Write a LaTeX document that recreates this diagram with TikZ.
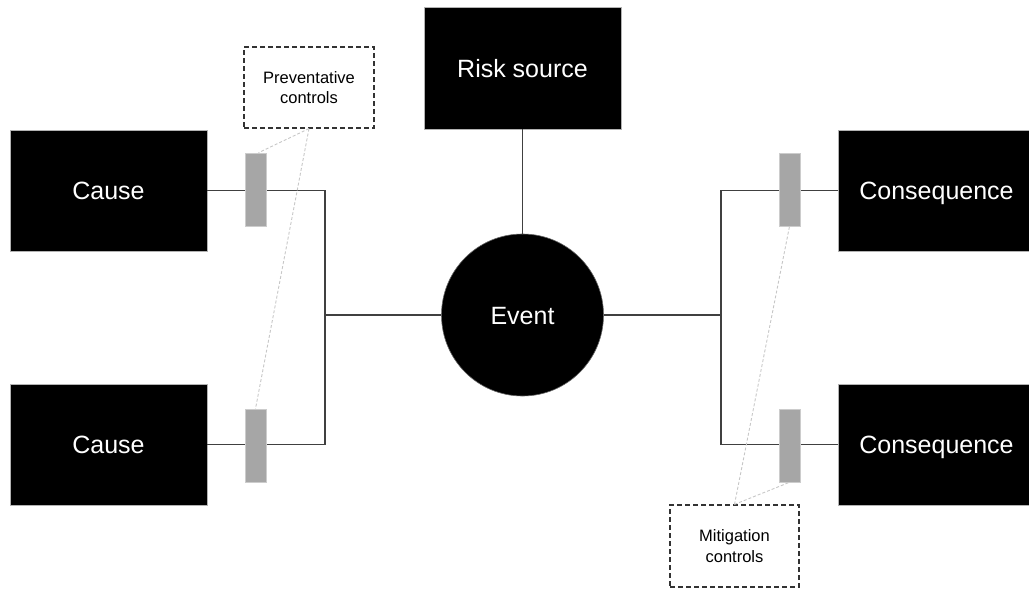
\documentclass[tikz,border=0pt]{standalone}
\usepackage{fontspec}
\setmainfont{Liberation Sans}
\begin{document}
\begin{tikzpicture}[x=1pt,y=-1pt,
  blackbox/.style={rectangle, fill=black, draw=black!30, line width=0.8pt,
    minimum width=197pt, minimum height=121pt, inner sep=0pt,
    text height=18pt, text depth=0pt,
    text=white, font=\fontsize{25}{30}\selectfont},
  eventdisc/.style={circle, fill=black, draw=black!60, line width=0.6pt,
    minimum size=162pt, inner sep=0pt, text height=18pt, text depth=0pt,
    text=white, font=\fontsize{25}{30}\selectfont},
  barrier/.style={rectangle, fill=black!35, draw=black!20, line width=0.6pt,
    minimum width=21pt, minimum height=73pt, inner sep=0pt},
  controlbox/.style={rectangle, draw=black!80, dashed, dash pattern=on 5pt off 3pt,
    line width=1.2pt, minimum width=130pt, minimum height=81pt, inner sep=0pt,
    align=center, font=\fontsize{16.5}{20.5}\selectfont},
  link/.style={draw=black!75, line width=1.1pt},
  pointer/.style={draw=black!22, line width=0.9pt, dash pattern=on 3pt off 2pt}
]
\useasboundingbox (0,0) rectangle (1029,589);
\clip (0,0) rectangle (1029,589);

% main boxes and the central event
\node[blackbox] (cause1) at (108.5,190.5) {Cause};
\node[blackbox] (cause2) at (108.5,444.5) {Cause};
\node[blackbox] (cons1) at (936.5,190.5) {Consequence};
\node[blackbox] (cons2) at (936.5,444.5) {Consequence};
\node[blackbox, minimum height=122pt] (risk) at (522.5,68) {Risk source};
\node[eventdisc] (event) at (522.5,315) {Event};

% junction points of the bow-tie wiring
\coordinate (jlt) at (325,190.5);
\coordinate (jlb) at (325,444.5);
\coordinate (jlm) at (325,315);
\coordinate (jrt) at (721,190.5);
\coordinate (jrb) at (721,444.5);
\coordinate (jrm) at (721,315);

% connectors
\draw[link] (cause1.east) -- (jlt) -- (jlb) -- (cause2.east);
\draw[link] (jlm) -- (event.west);
\draw[link] (cons1.west) -- (jrt) -- (jrb) -- (cons2.west);
\draw[link] (jrm) -- (event.east);
\draw[link] (risk.south) -- (event.north);

% barriers on the threat and consequence lines
\node[barrier] (bar1) at (255.5,189.5) {};
\node[barrier] (bar2) at (255.5,445.5) {};
\node[barrier] (bar3) at (789.5,189.5) {};
\node[barrier] (bar4) at (789.5,445.5) {};

% control labels
\node[controlbox] (prev) at (309,87.5) {Preventative\\controls};
\node[controlbox, minimum width=129pt, minimum height=82pt] (mitig) at (734.5,546) {Mitigation\\controls};

% leader lines from the labels to the barriers
\draw[pointer] (prev.south) -- ([xshift=3pt]bar1.north);
\draw[pointer] (prev.south) -- (bar2.north);
\draw[pointer] (mitig.north) -- (bar3.south);
\draw[pointer] (mitig.north) -- (bar4.south);
\end{tikzpicture}
\end{document}
